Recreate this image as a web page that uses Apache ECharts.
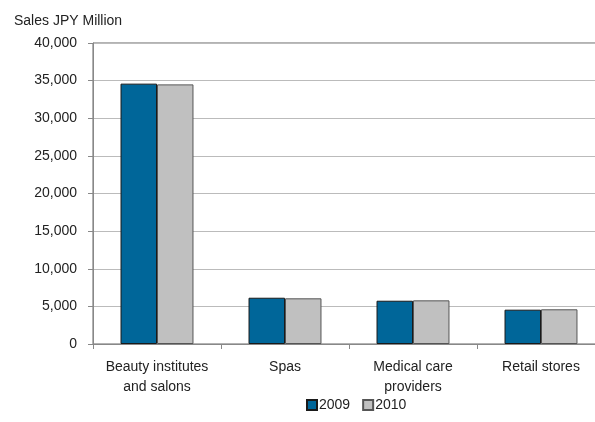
<!DOCTYPE html>
<html>
<head>
<meta charset="utf-8">
<script src="https://cdn.jsdelivr.net/npm/echarts@6/dist/echarts.min.js"></script>
<style>
  html, body { margin: 0; padding: 0; background: #fff; }
  #chart { width: 595px; height: 422px; }
</style>
</head>
<body>
<div id="chart"></div>
<script>
const categories = ['Beauty institutes\nand salons', 'Spas', 'Medical care\nproviders', 'Retail stores'];
const sales2009 = [34600, 6150, 5750, 4560];
const sales2010 = [34500, 6070, 5800, 4610];
const seriesNames = ['2009', '2010'];

const myChart = echarts.init(document.getElementById('chart'));
const font = 'Arial, "Liberation Sans", sans-serif';

const option = {
  animation: false,
  textStyle: { fontFamily: font },
  title: {
    text: 'Sales JPY Million',
    left: 9,
    top: 9,
    textStyle: { fontSize: 14, fontWeight: 'normal', color: '#222', fontFamily: font }
  },
  legend: {
    data: seriesNames,
    bottom: 5,
    left: 301,
    itemWidth: 10,
    itemHeight: 10,
    itemGap: 12,
    icon: 'rect',
    textStyle: { fontSize: 14, color: '#222', padding: [0, 0, 0, -3] }
  },
  grid: {
    left: 93,
    right: -10,
    top: 43,
    bottom: 78,
    outerBoundsMode: 'none',
    containLabel: false,
    show: true,
    borderColor: '#666',
    borderWidth: 1
  },
  xAxis: {
    type: 'category',
    data: categories,
    axisLine: { lineStyle: { color: '#888' } },
    axisTick: { show: true, length: 5, lineStyle: { color: '#888' } },
    axisLabel: { interval: 0, fontSize: 14, color: '#222', margin: 13, lineHeight: 20 }
  },
  yAxis: {
    type: 'value',
    min: 0,
    max: 40000,
    interval: 5000,
    axisLine: { show: true, lineStyle: { color: '#888' } },
    axisTick: { show: true, length: 5, lineStyle: { color: '#888' } },
    splitLine: { lineStyle: { color: '#bbb' } },
    axisLabel: {
      fontSize: 14,
      color: '#222',
      margin: 16,
      formatter: v => v.toLocaleString('en-US')
    }
  },
  series: [
    {
      name: seriesNames[0],
      type: 'bar',
      data: sales2009,
      barGap: '0%',
      barCategoryGap: '43%',
      itemStyle: { color: '#006699', borderColor: '#1a1a1a', borderWidth: 1 }
    },
    {
      name: seriesNames[1],
      type: 'bar',
      data: sales2010,
      itemStyle: { color: '#c0c0c0', borderColor: '#555', borderWidth: 1 }
    }
  ]
};

myChart.setOption(option);
</script>
</body>
</html>
